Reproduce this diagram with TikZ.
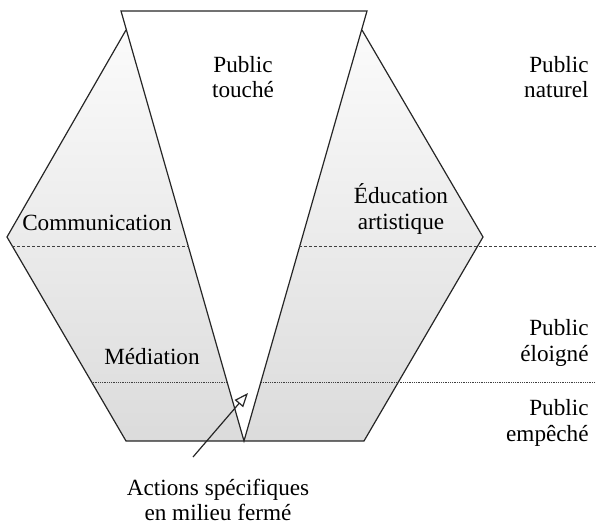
\documentclass[tikz,border=0pt]{standalone}
\usepackage{fontspec}
\setmainfont{Liberation Serif}
\usetikzlibrary{arrows.meta}

\begin{document}
\begin{tikzpicture}[x=0.5pt,y=-0.5pt]
    \tikzstyle{every node}=[font=\fontsize{11.6}{12.8}\selectfont, inner sep=0pt]
    \tikzstyle{edge}=[line width=0.6pt, draw=black!85]
    \tikzstyle{level}=[line width=0.45pt, draw=black!75]
    \useasboundingbox (0,0) rectangle (596,525);
    % corners of the funnel and of the hexagon
    \coordinate (vl) at (121,11);
    \coordinate (vr) at (367,11);
    \coordinate (apex) at (244,441);
    \coordinate (tl) at (126,30);
    \coordinate (tr) at (362,30);
    \coordinate (ml) at (7,237);
    \coordinate (mr) at (483,237);
    \coordinate (bl) at (126,441);
    \coordinate (br) at (364,441);
    \shade[top color=gray!3, bottom color=gray!28] (tl) -- (ml) -- (bl) -- (br) -- (mr) -- (tr) -- cycle;
    \filldraw[edge, fill=white] (vl) -- (vr) -- (apex) -- cycle;
    \draw[edge] (tl) -- (ml) -- (bl) -- (br) -- (mr) -- (tr);
    % Draw the two levels
    \draw[level, dash pattern=on 1.5pt off 1pt] (12,246) -- (189,246);
    \draw[level, dash pattern=on 1.5pt off 1pt] (299,246) -- (596,246);
    \draw[level, dash pattern=on 0.4pt off 0.5pt] (91,382) -- (227,382);
    \draw[level, dash pattern=on 0.4pt off 0.5pt] (261,382) -- (596,382);
    % labels
    \node[align=center] (touche) at (243,77) {Public\\touché};
    \node[align=right, anchor=east] (naturel) at (589,77) {Public\\naturel};
    \node (comm) at (97,223) {Communication};
    \node[align=center] (educ) at (401,209) {Éducation\\artistique};
    \node (medi) at (152,357) {Médiation};
    \node[align=right, anchor=east] (eloigne) at (589,343) {Public\\éloigné};
    \node[align=right, anchor=east] (empeche) at (589,423) {Public\\empêché};
    \node[align=center] (actions) at (218,500) {Actions spécifiques\\en milieu fermé};
    \coordinate (tail) at (193,457);
    \coordinate (head) at (248,393);
    \draw[edge, -{Triangle[open, length=7pt, width=5.5pt]}] (tail) -- (head);
\end{tikzpicture}
\end{document}
